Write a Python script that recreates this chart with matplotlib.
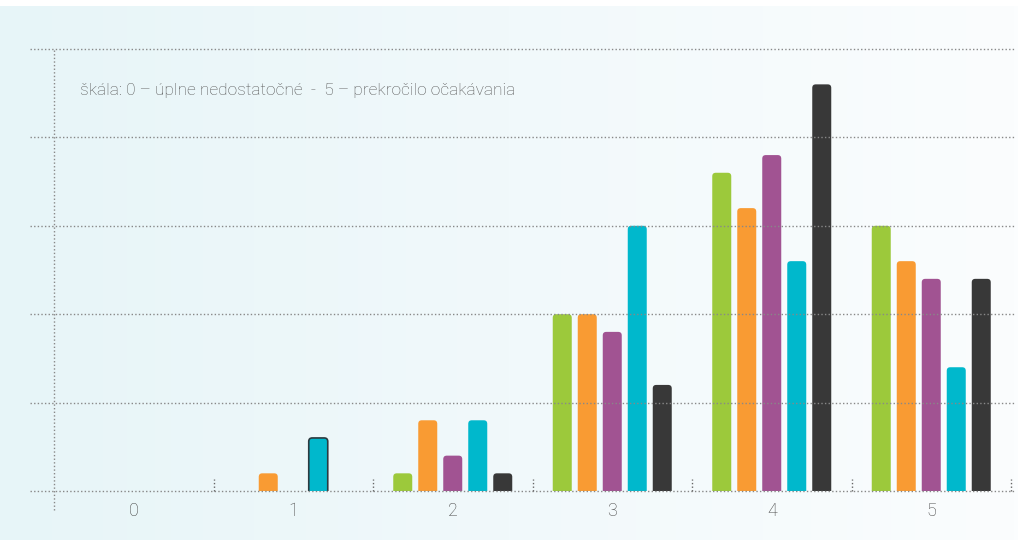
import numpy as np
import matplotlib
matplotlib.use("Agg")
import matplotlib.pyplot as plt
from matplotlib.patches import FancyBboxPatch

# data
categories = ["0", "1", "2", "3", "4", "5"]
green = [0, 0, 1, 10, 18, 15]
orange = [0, 1, 4, 10, 16, 13]
purple = [0, 0, 2, 9, 19, 12]
cyan = [0, 3, 4, 15, 13, 7]
dark = [0, 0, 1, 6, 23, 12]
series = [green, orange, purple, cyan, dark]
colors = ["#9cc93b", "#f99b33", "#a15392", "#00b8cc", "#383838"]
note = "škála: 0 – úplne nedostatočné  -  5 – prekročilo očakávania"

W, H = 1018, 540
fig = plt.figure(figsize=(W / 100, H / 100), dpi=100)
fig.patch.set_facecolor("white")

# background gradient (white strip on top)
bg = fig.add_axes([0, 0, 1, 1 - 6 / H])
grad = np.linspace(0, 1, 256)
c0 = np.array([0xe7, 0xf5, 0xf8]) / 255
c1 = np.array([0xfb, 0xfd, 0xfe]) / 255
img = c0[None, :] * (1 - grad[:, None]) + c1[None, :] * grad[:, None]
bg.imshow(img[None, :, :], aspect="auto", extent=[0, 1, 0, 1])
bg.set_axis_off()

left, right, top, bottom = 54, 1011, 49, 491
ax = fig.add_axes([left / W, 1 - bottom / H, (right - left) / W, (bottom - top) / H])
ax.patch.set_alpha(0)
ax.set_xlim(-0.5, 5.5)
ax.set_ylim(0, 25)
for s in ax.spines.values():
    s.set_visible(False)
ax.set_yticks([])
ax.set_xticks(range(len(categories)))
ax.set_xticklabels(categories, fontsize=13, color="#444444", family="Roboto", fontweight="light")
ax.tick_params(axis="x", length=0, pad=8)

# grid lines
grid_col = "#888888"
dots = (0, (1, 1.6))
for yv in range(0, 26, 5):
    ax.plot([-0.025, 1.004], [yv, yv], transform=ax.get_yaxis_transform(),
            color=grid_col, lw=1, ls=dots, clip_on=False)
# left axis line
ax.plot([0, 0], [-19 / 442, 1], transform=ax.transAxes, color=grid_col,
        lw=1, ls=dots, clip_on=False)
# category boundary ticks
for xb in np.arange(0.5, 6, 1.0):
    ax.plot([xb, xb], [0, 12 / 17.68], color="#666666", lw=1, ls=dots, clip_on=False)

# bars with rounded tops
px_x = (right - left) / 6.0
px_y = (bottom - top) / 25.0
step = 25 / px_x
bw = 19 / px_x
r = 3.5 / px_x
aspect = px_x / px_y
for i, vals in enumerate(series):
    for j, v in enumerate(vals):
        if v <= 0:
            continue
        x0 = j + (i - 2) * step - bw / 2
        ec = "#2b3a40" if (i == 3 and j == 1) else "none"
        p = FancyBboxPatch((x0, -1), bw, v + 1,
                           boxstyle="round,pad=0,rounding_size=%f" % r,
                           mutation_aspect=aspect, facecolor=colors[i],
                           edgecolor=ec, lw=1.2)
        ax.add_patch(p)

fig.text(80 / W, 1 - 90 / H, note, fontsize=12.5, color="#555555",
         family="Roboto", fontweight="light", va="center", ha="left")

fig.savefig("out.png", dpi=100)
